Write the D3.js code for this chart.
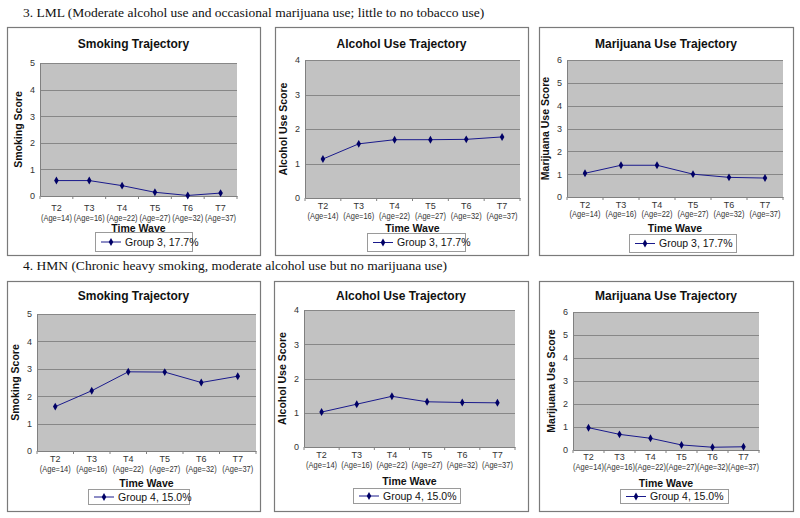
<!DOCTYPE html>
<html><head><meta charset="utf-8">
<script src="https://cdn.jsdelivr.net/npm/d3@7"></script>
<style>html,body{margin:0;padding:0;background:#fff;}svg{display:block;}</style>
</head><body>
<svg id="c" width="800" height="518"></svg>
<script>
const waves = ["T2","T3","T4","T5","T6","T7"];
const ages = ["(Age=14)","(Age=16)","(Age=22)","(Age=27)","(Age=32)","(Age=37)"];
const headings = [
  "3. LML (Moderate alcohol use and occasional marijuana use; little to no tobacco use)",
  "4. HMN (Chronic heavy smoking, moderate alcohol use but no marijuana use)"
];
const chartTitles = ["Smoking Trajectory","Alcohol Use Trajectory","Marijuana Use Trajectory"];
const yTitles = ["Smoking Score","Alcohol Use Score","Marijuana Use Score"];
const xTitle = "Time Wave";
const yMax = [5,4,6];
const legends = ["Group 3, 17.7%","Group 4, 15.0%"];
// Group 3 (LML)
const g3Smoking = [0.58,0.58,0.39,0.14,0.02,0.11];
const g3Alcohol = [1.13,1.57,1.69,1.69,1.70,1.77];
const g3Marijuana = [1.04,1.39,1.39,1.00,0.86,0.83];
// Group 4 (HMN)
const g4Smoking = [1.62,2.20,2.89,2.88,2.50,2.73];
const g4Alcohol = [1.02,1.25,1.48,1.32,1.30,1.29];
const g4Marijuana = [0.97,0.68,0.51,0.22,0.12,0.14];

const svg = d3.select("#c");
const SANS = "'Liberation Sans', Arial, sans-serif";
const SERIF = "'Liberation Serif', 'Times New Roman', serif";

// layout per panel: frame, plot rectangle, legend box, label offsets [T, Age, Time Wave] (centres below plot)
const panels = [
  {row:0,col:0,data:g3Smoking, frame:[7,27,253,228], plot:[40,63,237,196], legend:[95,232,97,19], off:[12,22,32]},
  {row:0,col:1,data:g3Alcohol, frame:[275,27,253,228], plot:[305,60,520,198], legend:[367,233,98,18], off:[8,18,30]},
  {row:0,col:2,data:g3Marijuana, frame:[539,27,254,228], plot:[567,60,783,197], legend:[629,234,107,18], off:[8,17,31]},
  {row:1,col:0,data:g4Smoking, frame:[7,281,253,230], plot:[37,314,256,451], legend:[88,489,101,15], off:[8,18,32]},
  {row:1,col:1,data:g4Alcohol, frame:[274,281,254,230], plot:[304,310,515,447], legend:[353,488,107,15], off:[8,18,34]},
  {row:1,col:2,data:g4Marijuana, frame:[539,281,254,230], plot:[573,312,759,450], legend:[620,489,108,14], off:[7,17,33]}
];

svg.append("text").attr("x",23).attr("y",17).attr("font-family",SERIF).attr("font-size",13.5).attr("fill","#111").text(headings[0]);
svg.append("text").attr("x",23).attr("y",270).attr("font-family",SERIF).attr("font-size",13.5).attr("fill","#111").text(headings[1]);

panels.forEach(p => {
  const g = svg.append("g");
  const [fx,fy,fw,fh] = p.frame;
  g.append("rect").attr("x",fx+0.5).attr("y",fy+0.5).attr("width",fw).attr("height",fh)
    .attr("fill","#fff").attr("stroke","#7a7a7a").attr("stroke-width",1.2);
  const [x0,y0,x1,y1] = p.plot;
  const x = d3.scaleBand().domain(waves).range([x0,x1]);
  const y = d3.scaleLinear().domain([0,yMax[p.col]]).range([y1,y0]);
  // title
  g.append("text").attr("x",fx+fw/2).attr("y",p.row===0?48:300).attr("text-anchor","middle")
    .attr("font-family",SANS).attr("font-weight","bold").attr("font-size",12).attr("fill","#111").text(chartTitles[p.col]);
  // plot area
  g.append("rect").attr("x",x0).attr("y",y0).attr("width",x1-x0).attr("height",y1-y0).attr("fill","#c2c2c2");
  const ticks = d3.range(0,yMax[p.col]+1);
  g.selectAll(".grid").data(ticks.filter(t=>t>0)).join("line")
    .attr("x1",x0).attr("x2",x1).attr("y1",d=>Math.round(y(d))+0.5).attr("y2",d=>Math.round(y(d))+0.5)
    .attr("stroke","#878787").attr("stroke-width",1);
  // y axis
  const ya = g.append("g").attr("transform",`translate(${x0},0)`)
    .call(d3.axisLeft(y).tickValues(ticks).tickSize(0).tickPadding(5).tickFormat(d3.format("d")));
  ya.select(".domain").attr("stroke","#808080");
  ya.selectAll(".tick text").attr("font-family",SANS).attr("font-size",9).attr("fill","#333");
  // x axis
  const xa = g.append("g").attr("transform",`translate(0,${y1})`)
    .call(d3.axisBottom(x).tickSize(0).tickPadding(0));
  xa.select(".domain").attr("stroke","#808080");
  xa.selectAll(".tick text").attr("y",p.off[0]).attr("dy","0.35em")
    .attr("font-family",SANS).attr("font-size",9).attr("fill","#333");
  xa.selectAll(".tick").append("text").attr("transform",`translate(0,${p.off[1]}) scale(0.85,1)`)
    .attr("dy","0.35em").attr("text-anchor","middle")
    .attr("font-family",SANS).attr("font-size",8.8).attr("fill","#333").text((d,i)=>ages[i]);
  // category boundary ticks
  g.selectAll(".ct").data(d3.range(7)).join("line")
    .attr("x1",i=>x0+i*x.step()).attr("x2",i=>x0+i*x.step()).attr("y1",y1).attr("y2",y1+3)
    .attr("stroke","#808080");
  // axis titles
  g.append("text").attr("x",(x0+x1)/2).attr("y",y1+p.off[2]).attr("dy","0.35em").attr("text-anchor","middle")
    .attr("font-family",SANS).attr("font-weight","bold").attr("font-size",10.5).attr("fill","#111").text(xTitle);
  g.append("text").attr("transform",`translate(${x0-18},${(y0+y1)/2}) rotate(-90)`).attr("text-anchor","middle")
    .attr("font-family",SANS).attr("font-weight","bold").attr("font-size",10.5).attr("fill","#111").text(yTitles[p.col]);
  // line
  const line = d3.line().x((d,i)=>x(waves[i])+x.bandwidth()/2).y(d=>y(d));
  g.append("path").datum(p.data).attr("d",line).attr("fill","none").attr("stroke","#1a1a8c").attr("stroke-width",1);
  const diamond = d3.symbol().type(d3.symbolDiamond).size(18);
  g.selectAll(".pt").data(p.data).join("path")
    .attr("transform",(d,i)=>`translate(${x(waves[i])+x.bandwidth()/2},${y(d)})`)
    .attr("d",diamond).attr("fill","#000066");
  // legend
  const [lx,ly,lw,lh] = p.legend;
  g.append("rect").attr("x",lx+0.5).attr("y",ly+0.5).attr("width",lw).attr("height",lh)
    .attr("fill","#fff").attr("stroke","#9a9a9a");
  g.append("line").attr("x1",lx+6).attr("x2",lx+26).attr("y1",ly+lh/2+0.5).attr("y2",ly+lh/2+0.5).attr("stroke","#1a1a8c");
  g.append("path").attr("transform",`translate(${lx+16},${ly+lh/2+0.5})`).attr("d",diamond).attr("fill","#000066");
  g.append("text").attr("x",lx+30).attr("y",ly+lh/2+0.5).attr("dy","0.35em").attr("font-family",SANS).attr("font-size",10.5).attr("fill","#111")
    .text(legends[p.row]);
});
</script>
</body></html>
